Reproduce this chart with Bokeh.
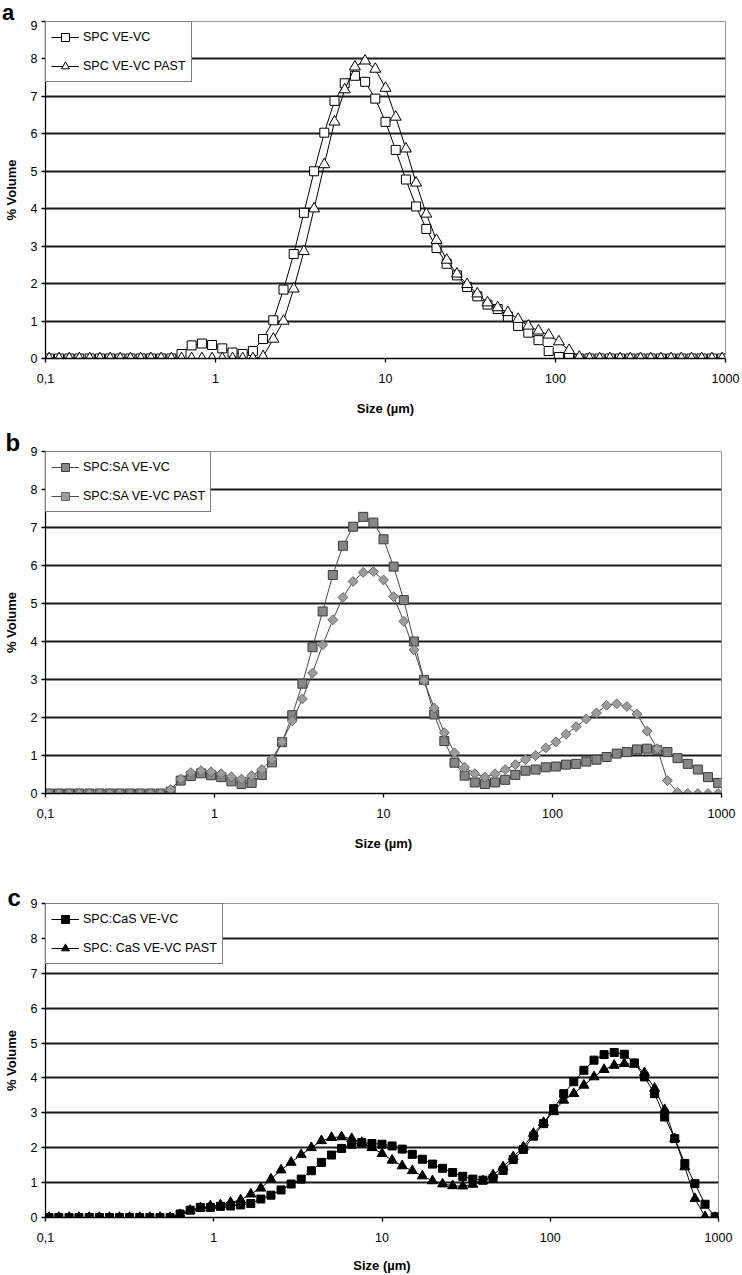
import math
from bokeh.plotting import figure
from bokeh.models import Range1d, FixedTicker, Label, Legend, LegendItem, Div
from bokeh.layouts import column
from bokeh.embed import file_html
from bokeh.resources import INLINE

# particle size classes (µm)
sizes_um = [0.105, 0.120, 0.138, 0.158, 0.182, 0.209, 0.240, 0.275, 0.316, 0.363,
            0.417, 0.479, 0.550, 0.631, 0.724, 0.832, 0.955, 1.096, 1.259, 1.445,
            1.660, 1.905, 2.188, 2.512, 2.884, 3.311, 3.802, 4.365, 5.012, 5.754,
            6.607, 7.586, 8.710, 10.000, 11.482, 13.183, 15.136, 17.378, 19.953, 22.909,
            26.303, 30.200, 34.674, 39.811, 45.709, 52.481, 60.256, 69.183, 79.433, 91.201,
            104.713, 120.226, 138.038, 158.489, 181.970, 208.930, 239.883, 275.423, 316.228, 363.078,
            416.869, 478.630, 549.541, 630.957, 724.436, 831.764, 954.993]

# panel a
a_vevc = [0, 0, 0, 0, 0, 0, 0, 0, 0, 0,
          0, 0, 0, 0.12, 0.35, 0.40, 0.36, 0.27, 0.16, 0.12,
          0.20, 0.52, 1.02, 1.84, 2.79, 3.89, 5.00, 6.03, 6.88, 7.35,
          7.55, 7.39, 6.94, 6.32, 5.57, 4.78, 4.06, 3.46, 2.95, 2.53,
          2.22, 1.91, 1.66, 1.44, 1.32, 1.12, 0.87, 0.69, 0.49, 0.20,
          0.04, 0.02, 0, 0, 0, 0, 0, 0, 0, 0,
          0, 0, 0, 0, 0, 0, 0]
a_past = [0, 0, 0, 0, 0, 0, 0, 0, 0, 0,
          0, 0, 0, 0, 0, 0, 0, 0, 0, 0,
          0, 0.05, 0.52, 1.00, 1.86, 2.86, 4.00, 5.18, 6.32, 7.18,
          7.79, 7.95, 7.73, 7.22, 6.45, 5.60, 4.69, 3.86, 3.16, 2.63,
          2.26, 1.98, 1.73, 1.49, 1.36, 1.23, 1.05, 0.87, 0.74, 0.63,
          0.45, 0.22, 0.04, 0, 0, 0, 0, 0, 0, 0,
          0, 0, 0, 0, 0, 0, 0]

# panel b
b_vevc = [0, 0, 0, 0, 0, 0, 0, 0, 0, 0,
          0, 0, 0.05, 0.34, 0.46, 0.53, 0.48, 0.43, 0.32, 0.25,
          0.28, 0.49, 0.82, 1.35, 2.06, 2.89, 3.85, 4.79, 5.75, 6.52,
          7.02, 7.28, 7.13, 6.69, 5.97, 5.09, 4.00, 2.99, 2.08, 1.38,
          0.81, 0.47, 0.29, 0.25, 0.29, 0.36, 0.49, 0.60, 0.63, 0.69,
          0.71, 0.76, 0.78, 0.84, 0.89, 0.96, 1.05, 1.09, 1.16, 1.18,
          1.14, 1.09, 0.93, 0.78, 0.63, 0.43, 0.28]
b_past = [0, 0, 0, 0, 0, 0, 0, 0, 0, 0,
          0, 0, 0.10, 0.38, 0.55, 0.60, 0.57, 0.52, 0.44, 0.38,
          0.47, 0.63, 0.90, 1.36, 1.91, 2.49, 3.17, 3.91, 4.57, 5.16,
          5.58, 5.82, 5.84, 5.62, 5.18, 4.53, 3.78, 2.97, 2.25, 1.60,
          1.07, 0.69, 0.52, 0.43, 0.52, 0.63, 0.76, 0.89, 1.00, 1.20,
          1.36, 1.56, 1.76, 1.96, 2.12, 2.32, 2.36, 2.29, 2.09, 1.64,
          1.18, 0.34, 0.03, 0, 0, 0, 0]

# panel c
c_vevc = [0, 0, 0, 0, 0, 0, 0, 0, 0, 0,
          0, 0, 0, 0.10, 0.21, 0.29, 0.29, 0.32, 0.33, 0.36,
          0.40, 0.53, 0.64, 0.79, 0.96, 1.10, 1.34, 1.58, 1.79, 1.98,
          2.10, 2.15, 2.12, 2.10, 2.05, 1.96, 1.81, 1.67, 1.53, 1.41,
          1.29, 1.18, 1.10, 1.07, 1.12, 1.35, 1.66, 1.95, 2.33, 2.69,
          3.12, 3.55, 3.89, 4.22, 4.51, 4.67, 4.73, 4.68, 4.43, 4.03,
          3.55, 2.88, 2.26, 1.55, 0.97, 0.38, 0.02]
c_past = [0, 0, 0, 0, 0, 0, 0, 0, 0, 0,
          0, 0, 0, 0.08, 0.20, 0.27, 0.33, 0.36, 0.43, 0.50,
          0.67, 0.84, 1.10, 1.36, 1.58, 1.80, 2.00, 2.20, 2.29, 2.31,
          2.26, 2.15, 2.00, 1.83, 1.64, 1.48, 1.34, 1.19, 1.05, 0.96,
          0.91, 0.90, 0.95, 1.05, 1.22, 1.45, 1.74, 2.02, 2.41, 2.72,
          3.03, 3.36, 3.55, 3.79, 4.03, 4.24, 4.36, 4.41, 4.39, 4.15,
          3.70, 3.09, 2.26, 1.45, 0.54, 0.02, 0]

x_ticks = [0.1, 1, 10, 100, 1000]
x_tick_labels = ["0,1", "1", "10", "100", "1000"]
y_ticks = [0, 1, 2, 3, 4, 5, 6, 7, 8, 9]

FONT = "Liberation Sans"


def make_panel(letter, letter_pos, series, borders, frame, size_standoff):
    bl, br, bt, bb = borders
    fw, fh = frame
    p = figure(x_axis_type="log", x_range=Range1d(0.1, 1000), y_range=Range1d(0, 9),
               frame_width=fw, frame_height=fh,
               min_border_left=bl, min_border_right=br, min_border_top=bt, min_border_bottom=bb,
               output_backend="svg", toolbar_location=None, title=None)
    p.background_fill_color = "white"
    p.border_fill_color = "white"
    p.outline_line_color = "#9a9a9a"
    p.outline_line_width = 1

    # axes
    p.xaxis.ticker = FixedTicker(ticks=x_ticks)
    p.xaxis.major_label_overrides = {t: l for t, l in zip(x_ticks, x_tick_labels)}
    p.yaxis.ticker = FixedTicker(ticks=y_ticks)
    for ax in (p.xaxis, p.yaxis):
        ax.axis_line_color = "black"
        ax.axis_line_width = 1.3
        ax.major_tick_line_color = "black"
        ax.major_tick_line_width = 1.3
        ax.major_tick_in = 0
        ax.major_tick_out = 4
        ax.minor_tick_line_color = None
        ax.major_label_text_font = FONT
        ax.major_label_text_font_size = "12.5px"
        ax.major_label_text_color = "black"
        ax.axis_label_text_font = FONT
        ax.axis_label_text_font_style = "bold"
        ax.axis_label_text_font_size = "13px"
        ax.axis_label_text_color = "black"
    p.xaxis.major_label_standoff = 11
    p.yaxis.major_label_standoff = 4
    p.xaxis.axis_label = "Size (µm)"
    p.xaxis.axis_label_standoff = size_standoff
    p.yaxis.axis_label = "% Volume"
    p.yaxis.axis_label_standoff = 9

    # grid
    p.xgrid.visible = False
    p.ygrid.ticker = FixedTicker(ticks=[1, 2, 3, 4, 5, 6, 7, 8])
    p.ygrid.grid_line_color = "#1a1a1a"
    p.ygrid.grid_line_width = 2

    items = []
    for (label, ys, marker, msize, angle, fill, mline, lcolor) in series:
        r_line = p.line(sizes_um, ys, line_color=lcolor, line_width=1)
        r_pts = p.scatter(sizes_um, ys, marker=marker, size=msize, angle=angle,
                          fill_color=fill, line_color=mline, line_width=1)
        items.append(LegendItem(label=label, renderers=[r_line, r_pts]))

    legend = Legend(items=items, location="top_left", margin=0, padding=5, spacing=9,
                    glyph_width=28, glyph_height=20, label_height=20, label_standoff=4,
                    label_text_font=FONT, label_text_font_size="12.5px",
                    label_text_color="black",
                    border_line_color="black", border_line_width=1.2,
                    background_fill_color="white", background_fill_alpha=1)
    p.add_layout(legend)

    if letter is not None:
        lx, ly = letter_pos
        p.add_layout(Label(x=lx, y=ly, x_units="screen", y_units="screen", text=letter,
                           text_font=FONT, text_font_style="bold", text_font_size="24px",
                           text_align="left", text_baseline="alphabetic",
                           text_color="black"), "above")
    return p


letter_a = Div(text="a", width=60, height=20, margin=0,
               styles={"font-family": FONT, "font-weight": "bold", "font-size": "22px",
                       "line-height": "25px", "padding-left": "2px", "color": "black",
                       "overflow": "visible"})

pa = make_panel(None, None, [
    ("SPC VE-VC", a_vevc, "square", 9, 0, "white", "black", "black"),
    ("SPC VE-VC PAST", a_past, "triangle", 11, 0, "white", "black", "black"),
], (42, 20, 1, 63), (680, 337), 15)

pb = make_panel("b", (-40, 9), [
    ("SPC:SA VE-VC", b_vevc, "square", 9, 0, "#868686", "#3c3c3c", "#4a4a4a"),
    ("SPC:SA VE-VC PAST", b_past, "square", 7, math.pi / 4, "#9c9c9c", "#6a6a6a", "#4a4a4a"),
], (42, 24, 30, 80), (676, 342), 15)

pc = make_panel("c", (-38, 6), [
    ("SPC:CaS VE-VC", c_vevc, "square", 8, 0, "black", "black", "black"),
    ("SPC: CaS VE-VC PAST", c_past, "triangle", 10, 0, "black", "black", "black"),
], (40, 29, 30, 56), (673, 314), 13)

layout = column(letter_a, pa, pb, pc, spacing=0)
open("out.html", "w").write(file_html(layout, INLINE))
